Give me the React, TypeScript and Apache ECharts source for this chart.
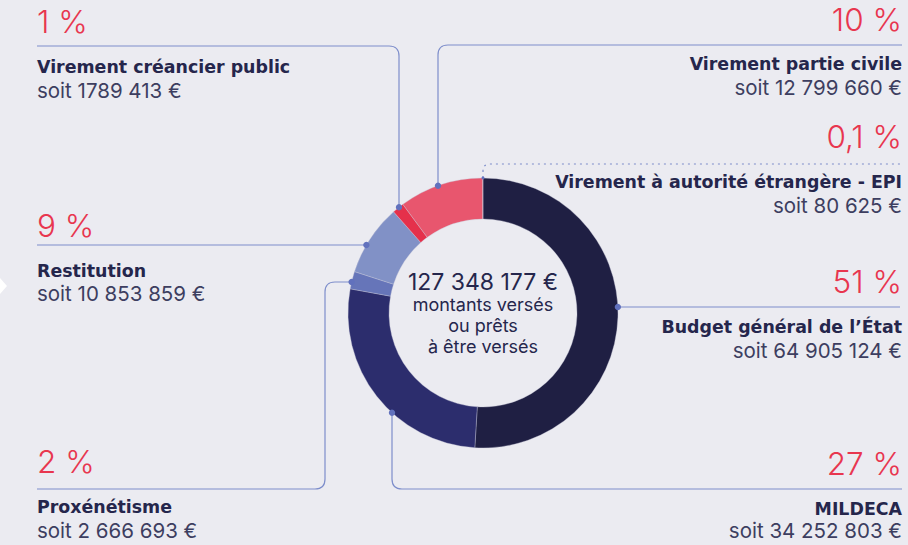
import React, { useEffect, useRef } from "react";
import * as echarts from "echarts";

// ---- Data ----
const CATEGORIES = [
  "Budget général de l’État",
  "MILDECA",
  "Proxénétisme",
  "Restitution",
  "Virement créancier public",
  "Virement partie civile",
  "Virement à autorité étrangère - EPI",
];
const AMOUNTS = [64905124, 34252803, 2666693, 10853859, 1789413, 12799660, 80625];
const PERCENT_LABELS = ["51 %", "27 %", "2 %", "9 %", "1 %", "10 %", "0,1 %"];
const AMOUNT_LABELS = [
  "soit 64 905 124 €",
  "soit 34 252 803 €",
  "soit 2 666 693 €",
  "soit 10 853 859 €",
  "soit 1789 413 €",
  "soit 12 799 660 €",
  "soit 80 625 €",
];
const CENTER_LINES = ["montants versés", "ou prêts", "à être versés"];

// ---- Styles / layout ----
const COLORS = ["#1f1f43", "#2c2d6d", "#6675b9", "#8191c6", "#e5304b", "#e8566e", "#e8566e"];
const BG = "#ebebf1";
const RED = "#e8364f";
const NAVY = "#25264c";
const GREY = "#3d3e60";
const LINE = "#7e8ecb";
const DOT = "#6171bd";
const FONT = 'Inter, "Open Sans", sans-serif';
const NAME_FONT = '"DejaVu Sans", Inter, sans-serif';
const CX = 483;
const CY = 313;
const R_IN = 94;
const R_OUT = 135;

type Lay = {
  anchor: { x?: number; y?: number; dir: number };
  route: number[][];
  side: "left" | "right";
  pctY: number;
  nameY: number;
  valY: number;
  dashed?: boolean;
};
const LAYOUT: Lay[] = [
  { anchor: { y: 307, dir: 1 }, route: [[900, 307]], side: "right", pctY: 293, nameY: 333, valY: 358 },
  { anchor: { x: 392, dir: 1 }, route: [[392, 489], [902, 489]], side: "right", pctY: 475, nameY: 515, valY: 538 },
  { anchor: { y: 282, dir: -1 }, route: [[325, 282], [325, 489], [37, 489]], side: "left", pctY: 473, nameY: 513, valY: 538 },
  { anchor: { y: 245, dir: -1 }, route: [[37, 245]], side: "left", pctY: 237, nameY: 277, valY: 301 },
  { anchor: { x: 399, dir: -1 }, route: [[399, 46], [37, 46]], side: "left", pctY: 33, nameY: 73, valY: 98 },
  { anchor: { x: 438, dir: -1 }, route: [[438, 45], [902, 45]], side: "right", pctY: 31, nameY: 70, valY: 95 },
  { anchor: { x: 483, dir: -1 }, route: [[483, 164], [902, 164]], side: "right", pctY: 148, nameY: 188, valY: 213, dashed: true },
];

const PCT_SIZE = 31.5;
const NAME_SIZE = 17.4;
const VAL_SIZE = 20.5;
const BIG_SIZE = 23;
const SMALL_SIZE = 18;
const K = 0.36; // Inter: baseline offset from line middle (em)
const KN = 0.346; // DejaVu

let registered = false;
function registerShapes() {
  if (registered) return;
  registered = true;
  const RoundLine = (echarts.graphic as any).extendShape({
    type: "roundLine",
    shape: { points: [] as number[][], r: 10 },
    buildPath(ctx: any, shape: any) {
      const pts = shape.points;
      const r = shape.r;
      if (!pts || pts.length < 2) return;
      ctx.moveTo(pts[0][0], pts[0][1]);
      for (let i = 1; i < pts.length - 1; i++) {
        const [px, py] = pts[i - 1];
        const [cx, cy] = pts[i];
        const [nx, ny] = pts[i + 1];
        const d1 = Math.hypot(cx - px, cy - py);
        const d2 = Math.hypot(nx - cx, ny - cy);
        const rr = Math.min(r, d1 / 2, d2 / 2);
        ctx.lineTo(cx - ((cx - px) / d1) * rr, cy - ((cy - py) / d1) * rr);
        ctx.quadraticCurveTo(cx, cy, cx + ((nx - cx) / d2) * rr, cy + ((ny - cy) / d2) * rr);
      }
      const last = pts[pts.length - 1];
      ctx.lineTo(last[0], last[1]);
    },
  });
  echarts.graphic.registerShape("roundLine", RoundLine);
}

function formatAmount(n: number) {
  return String(n).replace(/\B(?=(\d{3})+(?!\d))/g, " ") + " €";
}

export default function App() {
  const ref = useRef<HTMLDivElement>(null);
  useEffect(() => {
    if (!ref.current) return;
    registerShapes();
    const chart = echarts.init(ref.current, undefined, { renderer: "svg" });
    const total = AMOUNTS.reduce((a, b) => a + b, 0);

    const graphics: any[] = [];
    graphics.push({
      type: "polygon",
      silent: true,
      shape: { points: [[0, 278], [7, 286], [0, 294]] },
      style: { fill: "#ffffff" },
    });

    LAYOUT.forEach((l, i) => {
      let ax: number, ay: number;
      if (l.anchor.y !== undefined) {
        ay = l.anchor.y;
        ax = CX + l.anchor.dir * Math.sqrt(R_OUT * R_OUT - (ay - CY) * (ay - CY));
      } else {
        ax = l.anchor.x as number;
        ay = CY + l.anchor.dir * Math.sqrt(R_OUT * R_OUT - (ax - CX) * (ax - CX));
      }
      graphics.push({
        type: "roundLine",
        silent: true,
        z: 10,
        shape: { points: [[ax, ay], ...l.route], r: 10 },
        style: {
          stroke: LINE,
          lineWidth: 1.2,
          fill: "none",
          lineDash: l.dashed ? [2, 4] : null,
        },
      });
      graphics.push({
        type: "circle",
        silent: true,
        z: 11,
        shape: { cx: ax, cy: ay, r: l.dashed ? 1.5 : 3.2 },
        style: { fill: DOT },
      });
      const tx = l.side === "left" ? 37 : 902;
      const al = l.side === "left" ? "left" : "right";
      graphics.push({
        type: "text",
        silent: true,
        x: tx,
        y: l.pctY - PCT_SIZE * K,
        style: {
          text: PERCENT_LABELS[i],
          fill: RED,
          font: `300 ${PCT_SIZE}px ${FONT}`,
          align: al,
          verticalAlign: "middle",
        },
      });
      const L = l.valY - l.nameY - (K * VAL_SIZE - KN * NAME_SIZE);
      graphics.push({
        type: "text",
        silent: true,
        x: tx,
        y: l.nameY - L / 2 - NAME_SIZE * KN,
        style: {
          text: `{n|${CATEGORIES[i]}}\n{v|${AMOUNT_LABELS[i]}}`,
          align: al,
          verticalAlign: "top",
          rich: {
            n: { fontFamily: NAME_FONT, fontSize: NAME_SIZE, fontWeight: 700, fill: NAVY, lineHeight: L, align: al },
            v: { fontFamily: FONT, fontSize: VAL_SIZE, fontWeight: 400, fill: GREY, lineHeight: L, align: al },
          },
        },
      });
    });

    graphics.push({
      type: "text",
      silent: true,
      x: CX,
      y: 290 - 12 - BIG_SIZE * K,
      style: {
        text: `{b|${formatAmount(total)}}\n` + CENTER_LINES.map((s) => `{s|${s}}`).join("\n"),
        align: "center",
        verticalAlign: "top",
        rich: {
          b: { fontFamily: FONT, fontSize: BIG_SIZE, fontWeight: 400, fill: NAVY, lineHeight: 24, align: "center" },
          s: { fontFamily: FONT, fontSize: SMALL_SIZE, fontWeight: 400, fill: NAVY, lineHeight: 21, align: "center" },
        },
      },
    });

    chart.setOption({
      animation: false,
      backgroundColor: BG,
      graphic: { elements: graphics },
      series: [
        {
          type: "pie",
          center: [CX, CY],
          radius: [R_IN, R_OUT],
          startAngle: 90,
          clockwise: true,
          silent: true,
          label: { show: false },
          labelLine: { show: false },
          itemStyle: { borderColor: "rgba(200,200,215,0.6)", borderWidth: 0.6 },
          data: CATEGORIES.map((name, i) => ({
            name,
            value: AMOUNTS[i],
            itemStyle: { color: COLORS[i] },
          })),
        },
      ],
    });
    return () => chart.dispose();
  }, []);
  return (
    <div
      ref={ref}
      style={{ position: "fixed", left: 0, top: 0, width: 908, height: 545 }}
    />
  );
}
